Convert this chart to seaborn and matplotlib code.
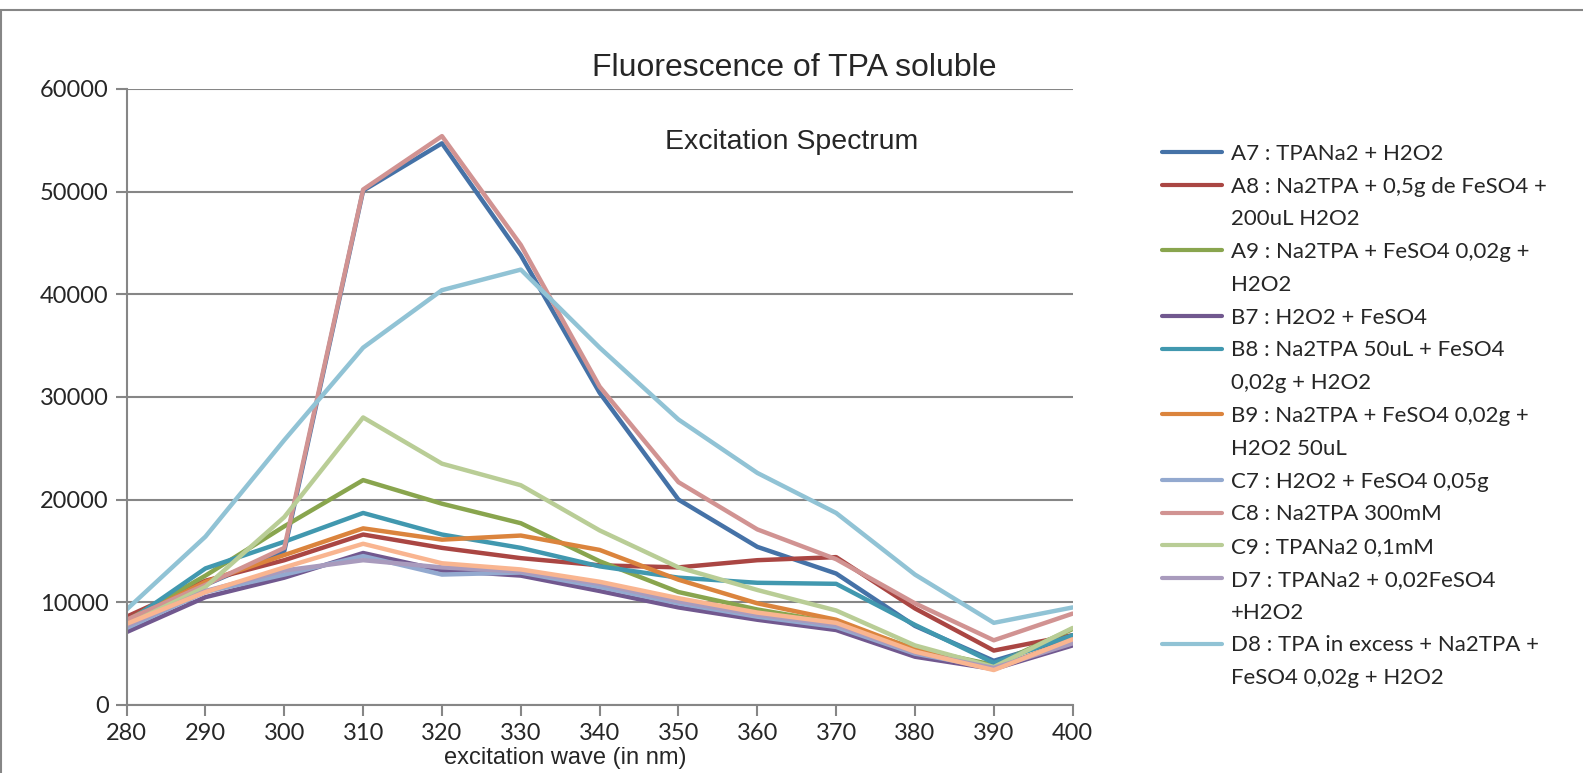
import matplotlib
matplotlib.use("Agg")
import matplotlib.pyplot as plt
import seaborn as sns
from matplotlib.lines import Line2D
from matplotlib.patches import Rectangle

wavelength = [280, 290, 300, 310, 320, 330, 340, 350, 360, 370, 380, 390, 400]

a7 = [8300, 11700, 15000, 50100, 54700, 43800, 30400, 20000, 15400, 12800, 7700, 4300, 6600]
a8 = [8600, 12100, 14100, 16600, 15300, 14300, 13600, 13400, 14100, 14400, 9400, 5300, 6800]
a9 = [8200, 12600, 17400, 21900, 19600, 17700, 14000, 11000, 9300, 8000, 5500, 3900, 7400]
b7 = [7100, 10500, 12400, 14800, 13100, 12600, 11100, 9500, 8300, 7300, 4700, 3500, 5800]
b8 = [8000, 13300, 15900, 18700, 16600, 15300, 13500, 12400, 11900, 11800, 7800, 4100, 6800]
b9 = [8100, 12000, 14600, 17200, 16100, 16500, 15100, 12200, 9900, 8300, 5400, 3600, 6300]
c7 = [7500, 11000, 12700, 14500, 12700, 12900, 11500, 9900, 8600, 7600, 5000, 3600, 6200]
c8 = [8300, 11700, 15300, 50200, 55400, 44800, 31000, 21700, 17100, 14200, 9900, 6300, 8900]
c9 = [7800, 11500, 18300, 28000, 23500, 21400, 17000, 13400, 11200, 9200, 5800, 3700, 7500]
d7 = [7700, 11100, 13100, 14100, 13400, 13000, 11800, 10100, 8800, 7800, 5100, 3600, 6000]
d8 = [9300, 16400, 25800, 34800, 40400, 42400, 34800, 27800, 22600, 18700, 12700, 8000, 9500]
d9 = [7900, 11000, 13400, 15700, 13800, 13200, 12000, 10400, 9000, 8000, 5200, 3400, 6400]

labels = [
    "A7 : TPANa2 + H2O2",
    "A8 : Na2TPA + 0,5g de FeSO4 +\n200uL H2O2",
    "A9 : Na2TPA + FeSO4 0,02g +\nH2O2",
    "B7 : H2O2 + FeSO4",
    "B8 : Na2TPA 50uL + FeSO4\n0,02g + H2O2",
    "B9 : Na2TPA + FeSO4 0,02g +\nH2O2 50uL",
    "C7 : H2O2 + FeSO4 0,05g",
    "C8 : Na2TPA 300mM",
    "C9 : TPANa2 0,1mM",
    "D7 : TPANa2 + 0,02FeSO4\n+H2O2",
    "D8 : TPA in excess + Na2TPA +\nFeSO4 0,02g + H2O2",
    None,
]
series = [a7, a8, a9, b7, b8, b9, c7, c8, c9, d7, d8, d9]
colors = ["#4572A7", "#AA4643", "#89A54E", "#71588F", "#4198AF", "#DB843D",
          "#93A9CF", "#D19392", "#B9CD96", "#A99BBD", "#91C3D5", "#F9B590"]

sns.set_style("white")
plt.rcParams["font.family"] = ["Liberation Sans", "DejaVu Sans"]

fig = plt.figure(figsize=(15.83, 7.73), dpi=100)
ax = fig.add_axes([0.080, 0.088, 0.5976, 0.797])

for vals, col in zip(series, colors):
    sns.lineplot(x=wavelength, y=vals, ax=ax, color=col, linewidth=3.2, legend=False)

ax.set_xlim(280, 400)
ax.set_ylim(0, 60000)
ax.set_xticks(wavelength)
ax.set_yticks(range(0, 60001, 10000))
ax.grid(axis="y", color="#868686", linewidth=1.5)
ax.set_axisbelow(True)
for s in ["top", "right"]:
    ax.spines[s].set_visible(False)
for s in ["left", "bottom"]:
    ax.spines[s].set_color("#868686")
    ax.spines[s].set_linewidth(1.5)
ax.tick_params(axis="both", direction="out", length=8, width=1.5, color="#868686",
               labelsize=17, pad=5)
ax.tick_params(axis="x", bottom=True)
ax.tick_params(axis="y", left=True)
for t in ax.get_xticklabels() + ax.get_yticklabels():
    t.set_family("Lato")
ax.set_xlabel("")
ax.set_ylabel("")

ax.text(0.703, 0.914, "Excitation Spectrum", transform=ax.transAxes,
        ha="center", va="center", fontsize=20.5)
fig.text(0.5016, 0.912, "Fluorescence of TPA soluble", ha="center", va="center", fontsize=23)
fig.text(0.357, 0.019, "excitation wave (in nm)", ha="center", va="center", fontsize=17)

# legend: handle sits on the first line of each label, like the Excel chart
handles, texts = [], []
for lab, col in zip(labels, colors):
    if lab is None:
        continue
    for i, row in enumerate(lab.split("\n")):
        if i == 0:
            handles.append(Line2D([], [], color=col, linewidth=3))
        else:
            handles.append(Line2D([], [], color="none", linewidth=0))
        texts.append(row)

ax.legend(handles, texts, loc="upper left", bbox_to_anchor=(0.734, 0.814),
          bbox_transform=fig.transFigure, frameon=False,
          prop={"family": "Lato", "size": 16}, handlelength=2.7,
          handletextpad=0.4, labelspacing=0.575, borderpad=0, borderaxespad=0)

fig.patches.append(Rectangle((0.0008, -0.01), 1.2, 0.997, transform=fig.transFigure,
                             fill=False, edgecolor="#868686", linewidth=1.5))

fig.savefig("out.png", dpi=100)
